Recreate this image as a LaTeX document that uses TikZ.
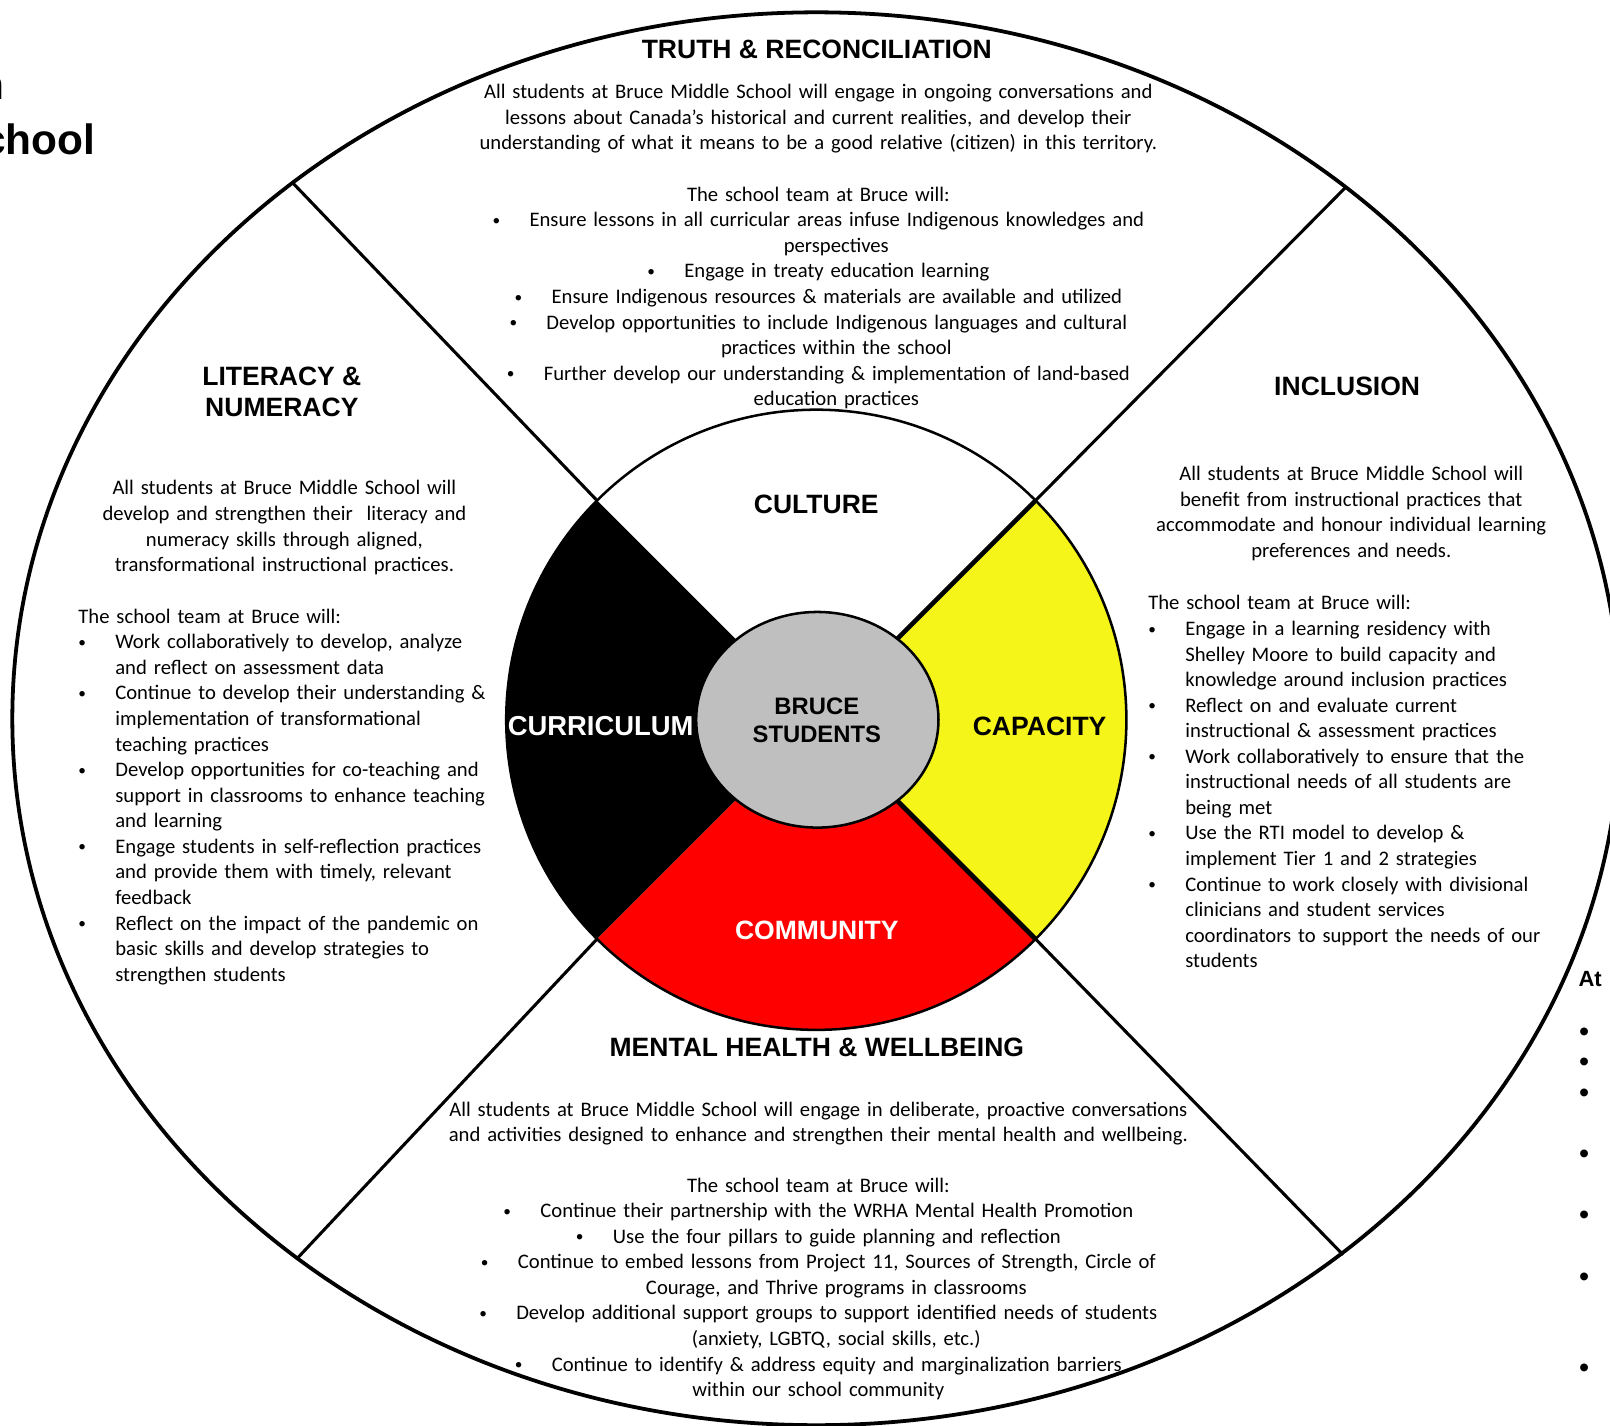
\documentclass[tikz,border=0pt]{standalone}
\usepackage{fontspec}
\setmainfont{Carlito}
\newfontfamily\headfont{Liberation Sans}
\usetikzlibrary{calc}
\definecolor{wheelyellow}{RGB}{245,245,25}
\definecolor{wheelred}{RGB}{255,0,0}
\definecolor{wheelgray}{RGB}{191,191,191}
\newcommand{\bul}{\makebox[0.72cm][l]{\raisebox{0.8pt}{\fontsize{8.5}{8.5}\selectfont•}}}
\newcommand{\hang}{\hspace*{0.72cm}}
\newcommand{\shift}{\hspace*{0.70cm}}
\tikzset{
  body/.style={font=\fontsize{11.45}{14.17}\selectfont, inner sep=0pt, anchor=base},
  ctrblock/.style={body, text width=16cm, align=center},
  leftblock/.style={body, anchor=base west, text width=10cm, align=left},
  heading/.style={font=\fontsize{14.7}{17.6}\selectfont\headfont\bfseries, inner sep=0pt, anchor=base, align=center},
  students/.style={font=\fontsize{13.2}{15.4}\selectfont\headfont\bfseries, inner sep=0pt, anchor=base, align=center},
  titlefrag/.style={font=\fontsize{23.5}{28.5}\selectfont\headfont\bfseries, inner sep=0pt, anchor=base east},
  sidefrag/.style={font=\fontsize{12.2}{14.6}\selectfont\headfont\bfseries, inner sep=0pt, anchor=base west},
  sidedot/.style={font=\fontsize{16}{16}\selectfont\headfont, inner sep=0pt, anchor=base west},
  spoke/.style={line width=1.7pt},
}

\begin{document}
\begin{tikzpicture}[x=0.02cm,y=-0.02cm]
\useasboundingbox (0,0) rectangle (1568,1388);
\clip (0,0) rectangle (1568,1388);
% centre of the wheel
\coordinate (hub) at (795,701);
% outer wheel
\draw[line width=2.1pt] (795,700) ellipse [x radius=783, y radius=688];
% spoke ends on the outer wheel
\coordinate (oUL) at (285,178);
\coordinate (oUR) at (1310,183);
\coordinate (oLL) at (290,1225);
\coordinate (oLR) at (1308,1222);
% spoke ends on the medicine wheel
\coordinate (iUL) at ($(hub)+(225:302)$);
\coordinate (iUR) at ($(hub)+(-45:302)$);
\coordinate (iLL) at ($(hub)+(135:302)$);
\coordinate (iLR) at ($(hub)+(45:302)$);
% spokes
\draw[spoke] (oUL) -- (iUL);
\draw[spoke] (oUR) -- (iUR);
\draw[spoke] (oLL) -- (iLL);
\draw[spoke] (oLR) -- (iLR);
% quarters of the medicine wheel
\fill[black] (hub) -- (iLL) arc[start angle=135, end angle=225, radius=302] -- cycle;
\fill[wheelred] (hub) -- (iLR) arc[start angle=45, end angle=135, radius=302] -- cycle;
\fill[wheelyellow] (hub) -- (iUR) arc[start angle=-45, end angle=45, radius=302] -- cycle;
\draw[line width=1.4pt] (hub) circle [radius=302];
\draw[line width=2.6pt] (iUR) -- (hub);
\draw[line width=2.6pt] (iLR) -- (hub);
% students in the middle
\draw[line width=1.4pt, fill=wheelgray] (796,701) ellipse [x radius=118, y radius=105];
\node[students] (bruce) at (795.5,723) {BRUCE\\STUDENTS};
% quarter labels
\node[heading] (culture) at (795,500) {CULTURE};
\node[heading, text=white, font=\fontsize{15.2}{18}\selectfont\headfont\bfseries] (curriculum) at (585,716) {CURRICULUM};
\node[heading] (capacity) at (1012.5,716) {CAPACITY};
\node[heading, text=white] (community) at (795.5,915) {COMMUNITY};

% top part
\node[heading] (truth) at (795.5,57) {TRUTH \& RECONCILIATION};
\node[ctrblock] (truthgoal) at (797,96) {All students at Bruce Middle School will engage in ongoing conversations and\\
lessons about Canada’s historical and current realities, and develop their\\
understanding of what it means to be a good relative (citizen) in this territory.};
\node[ctrblock] (truthteam) at (797,196) {The school team at Bruce will:\\
\bul Ensure lessons in all curricular areas infuse Indigenous knowledges and\\
\shift perspectives\\
\bul Engage in treaty education learning\\
\bul Ensure Indigenous resources \& materials are available and utilized\\
\bul Develop opportunities to include Indigenous languages and cultural\\
\shift practices within the school\\
\bul Further develop our understanding \& implementation of land-based\\
\shift education practices};

% left part
\node[heading] (literacy) at (274.5,406) {LITERACY \&\\NUMERACY};
\node[ctrblock] (literacygoal) at (277,482) {All students at Bruce Middle School will\\
develop and strengthen their\ \ literacy and\\
numeracy skills through aligned,\\
transformational instructional practices.};
\node[leftblock] (literacyteam) at (76,607) {The school team at Bruce will:\\
\bul Work collaboratively to develop, analyze\\
\hang and reflect on assessment data\\
\bul Continue to develop their understanding \&\\
\hang implementation of transformational\\
\hang teaching practices\\
\bul Develop opportunities for co-teaching and\\
\hang support in classrooms to enhance teaching\\
\hang and learning\\
\bul Engage students in self-reflection practices\\
\hang and provide them with timely, relevant\\
\hang feedback\\
\bul Reflect on the impact of the pandemic on\\
\hang basic skills and develop strategies to\\
\hang strengthen students};

% right part
\node[heading] (inclusion) at (1312,385) {INCLUSION};
\node[ctrblock] (inclusiongoal) at (1316,468) {All students at Bruce Middle School will\\
benefit from instructional practices that\\
accommodate and honour individual learning\\
preferences and needs.};
\node[leftblock] (inclusionteam) at (1118,594) {The school team at Bruce will:\\
\bul Engage in a learning residency with\\
\hang Shelley Moore to build capacity and\\
\hang knowledge around inclusion practices\\
\bul Reflect on and evaluate current\\
\hang instructional \& assessment practices\\
\bul Work collaboratively to ensure that the\\
\hang instructional needs of all students are\\
\hang being met\\
\bul Use the RTI model to develop \&\\
\hang implement Tier 1 and 2 strategies\\
\bul Continue to work closely with divisional\\
\hang clinicians and student services\\
\hang coordinators to support the needs of our\\
\hang students};

% bottom part
\node[heading] (mental) at (795.5,1029) {MENTAL HEALTH \& WELLBEING};
\node[ctrblock] (mentalgoal) at (797,1087) {All students at Bruce Middle School will engage in deliberate, proactive conversations\\
and activities designed to enhance and strengthen their mental health and wellbeing.};
\node[ctrblock] (mentalteam) at (797,1161) {The school team at Bruce will:\\
\bul Continue their partnership with the WRHA Mental Health Promotion\\
\bul Use the four pillars to guide planning and reflection\\
\bul Continue to embed lessons from Project 11, Sources of Strength, Circle of\\
\shift Courage, and Thrive programs in classrooms\\
\bul Develop additional support groups to support identified needs of students\\
\shift (anxiety, LGBTQ, social skills, etc.)\\
\bul Continue to identify \& address equity and marginalization barriers\\
within our school community};

% cut off text at the edges
\node[titlefrag] (titleone) at (5,97) {n};
\node[titlefrag] (titletwo) at (93,150) {chool};
\node[sidefrag] (atword) at (1537,961) {At};
\node[sidedot] (dota) at (1537.5,1014) {•};
\node[sidedot] (dotb) at (1537.5,1044) {•};
\node[sidedot] (dotc) at (1537.5,1073.5) {•};
\node[sidedot] (dotd) at (1537.5,1133.3) {•};
\node[sidedot] (dote) at (1537.5,1193) {•};
\node[sidedot] (dotf) at (1537.5,1252.6) {•};
\node[sidedot] (dotg) at (1537.5,1342) {•};
\end{tikzpicture}
\end{document}
